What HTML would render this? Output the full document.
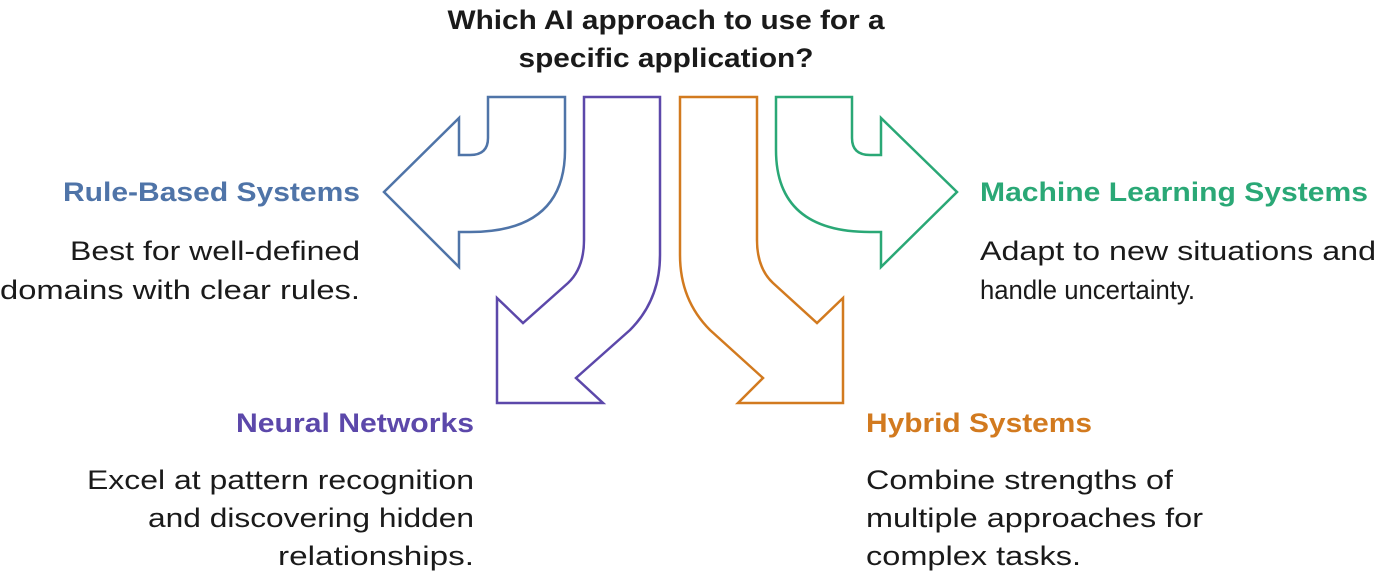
<!DOCTYPE html>
<html><head><meta charset="utf-8"><style>
html,body{margin:0;padding:0;background:#fff;}
svg{display:block;font-family:"Liberation Sans",Arial,sans-serif;}
.h{font-weight:bold;font-size:27px;}
.b{font-size:27px;fill:#1a1a1a;}
</style></head><body>
<svg width="1382" height="580" viewBox="0 0 1382 580">
<g fill="none" stroke-width="2.5" stroke-linejoin="miter">
<path stroke="#4f74a8" d="M488,97 L565,97 L565,150 Q565,232 470,232 L459,232 L459,267 L384,192 L459,118 L459,155 L470,155 Q488,155 488,138 Z"/>
<path stroke="#5c48aa" d="M584,97 L660,97 L660,255 Q660,300 630,330 L576,378 L603,403 L497,403 L497,298 L523,323 L568,283 Q584,268 584,240 Z"/>
<path stroke="#d27a1f" d="M680,97 L757,97 L757,240 Q757,268 773,283 L817,323 L843,298 L843,403 L738,403 L763,378 L710,330 Q680,300 680,255 Z"/>
<path stroke="#2aa876" d="M776,97 L852,97 L852,138 Q852,155 870,155 L881,155 L881,118 L957,192 L881,267 L881,232 L870,232 Q776,232 776,150 Z"/>
</g>
<text class="h" fill="#1a1a1a" x="666" y="29" text-anchor="middle" textLength="437" lengthAdjust="spacingAndGlyphs">Which AI approach to use for a</text>
<text class="h" fill="#1a1a1a" x="666" y="67" text-anchor="middle" textLength="295" lengthAdjust="spacingAndGlyphs">specific application?</text>

<text class="h" fill="#4f74a8" x="360" y="201" text-anchor="end" textLength="297" lengthAdjust="spacingAndGlyphs">Rule-Based Systems</text>
<text class="b" x="360" y="260" text-anchor="end" textLength="290" lengthAdjust="spacingAndGlyphs">Best for well-defined</text>
<text class="b" x="360" y="299" text-anchor="end" textLength="360" lengthAdjust="spacingAndGlyphs">domains with clear rules.</text>

<text class="h" fill="#2aa876" x="980" y="201" textLength="388" lengthAdjust="spacingAndGlyphs">Machine Learning Systems</text>
<text class="b" x="980" y="260" textLength="396" lengthAdjust="spacingAndGlyphs">Adapt to new situations and</text>
<text class="b" x="980" y="299" textLength="215" lengthAdjust="spacingAndGlyphs">handle uncertainty.</text>

<text class="h" fill="#5c48aa" x="474" y="432" text-anchor="end" textLength="238" lengthAdjust="spacingAndGlyphs">Neural Networks</text>
<text class="b" x="474" y="489" text-anchor="end" textLength="387" lengthAdjust="spacingAndGlyphs">Excel at pattern recognition</text>
<text class="b" x="474" y="527" text-anchor="end" textLength="326" lengthAdjust="spacingAndGlyphs">and discovering hidden</text>
<text class="b" x="474" y="565" text-anchor="end" textLength="196" lengthAdjust="spacingAndGlyphs">relationships.</text>

<text class="h" fill="#d27a1f" x="866" y="432" textLength="226" lengthAdjust="spacingAndGlyphs">Hybrid Systems</text>
<text class="b" x="866" y="489" textLength="307" lengthAdjust="spacingAndGlyphs">Combine strengths of</text>
<text class="b" x="866" y="527" textLength="337" lengthAdjust="spacingAndGlyphs">multiple approaches for</text>
<text class="b" x="866" y="565" textLength="215" lengthAdjust="spacingAndGlyphs">complex tasks.</text>
</svg>
</body></html>
